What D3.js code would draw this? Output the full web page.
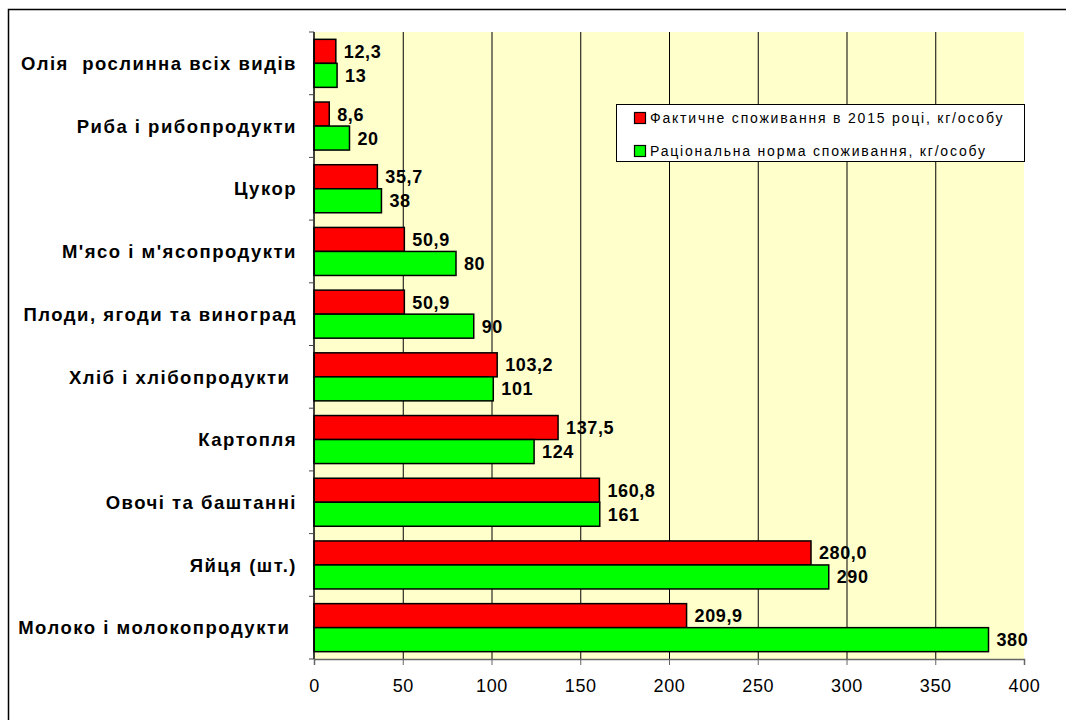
<!DOCTYPE html>
<html>
<head>
<meta charset="utf-8">
<script src="https://cdn.jsdelivr.net/npm/d3@7/dist/d3.min.js"></script>
<style>
  body { margin: 0; background: #fff; }
  svg { display: block; font-family: "Liberation Sans", Arial, sans-serif; }
</style>
</head>
<body>
<div id="chart"></div>
<script>
// categories, top to bottom
const categories = [
  'Олія  рослинна всіх видів',
  'Риба і рибопродукти',
  'Цукор',
  "М'ясо і м'ясопродукти",
  'Плоди, ягоди та виноград',
  'Хліб і хлібопродукти ',
  'Картопля',
  'Овочі та баштанні',
  'Яйця (шт.)',
  'Молоко і молокопродукти '
];
const actual = [12.3, 8.6, 35.7, 50.9, 50.9, 103.2, 137.5, 160.8, 280.0, 209.9];
const actualLabels = ['12,3', '8,6', '35,7', '50,9', '50,9', '103,2', '137,5', '160,8', '280,0', '209,9'];
const norm = [13, 20, 38, 80, 90, 101, 124, 161, 290, 380];
const seriesNames = [
  'Фактичне споживання в 2015 році, кг/особу',
  'Раціональна норма споживання, кг/особу'
];
const seriesColors = ['#ff0000', '#00ff00'];
const xTicks = [0, 50, 100, 150, 200, 250, 300, 350, 400];

const W = 1066, H = 720;
const plot = { left: 314, right: 1024, top: 32, bottom: 659 };

const svg = d3.select('#chart').append('svg')
  .attr('width', W).attr('height', H);

// outer frame
svg.append('rect')
  .attr('x', 8.5).attr('y', 9.5)
  .attr('width', W).attr('height', H)
  .attr('fill', 'none').attr('stroke', '#000').attr('stroke-width', 1.5);

const x = d3.scaleLinear().domain([0, 400]).range([plot.left, plot.right]);
const y = d3.scaleBand().domain(categories).range([plot.top, plot.bottom])
  .paddingInner(0.234).paddingOuter(0.117);
const sub = d3.scaleBand().domain([0, 1]).range([0, y.bandwidth()]);

// plot background
svg.append('rect')
  .attr('x', plot.left).attr('y', plot.top)
  .attr('width', plot.right - plot.left).attr('height', plot.bottom - plot.top)
  .attr('fill', '#ffffcc');

// vertical gridlines
svg.append('g').selectAll('line')
  .data(xTicks.slice(1, -1))
  .join('line')
  .attr('x1', d => x(d) + 0.5).attr('x2', d => x(d) + 0.5)
  .attr('y1', plot.top).attr('y2', plot.bottom)
  .attr('stroke', '#000').attr('stroke-width', 1);

// bars
const groups = svg.append('g').selectAll('g')
  .data(categories)
  .join('g')
  .attr('transform', d => `translate(0,${y(d)})`);

[actual, norm].forEach((vals, si) => {
  groups.append('rect')
    .attr('x', x(0))
    .attr('y', sub(si))
    .attr('width', (d, i) => x(vals[i]) - x(0))
    .attr('height', sub.bandwidth())
    .attr('fill', seriesColors[si])
    .attr('stroke', '#000').attr('stroke-width', 1.5);
});

// value labels
[[actual, actualLabels], [norm, norm.map(String)]].forEach(([vals, labels], si) => {
  groups.append('text')
    .attr('x', (d, i) => x(vals[i]) + 8)
    .attr('y', sub(si) + sub.bandwidth() / 2)
    .attr('dy', '0.36em')
    .attr('font-size', 18).attr('font-weight', 'bold').attr('fill', '#000')
    .attr('letter-spacing', 0.6)
    .text((d, i) => labels[i]);
});

// y axis: line, ticks at band boundaries, labels
const step = y.step();
const boundaries = d3.range(categories.length + 1).map(i => plot.top + i * step);
const yAxis = svg.append('g');
yAxis.append('line')
  .attr('x1', plot.left).attr('x2', plot.left)
  .attr('y1', plot.top).attr('y2', plot.bottom)
  .attr('stroke', '#000').attr('stroke-width', 1.5);
yAxis.selectAll('.tk').data(boundaries).join('line')
  .attr('x1', plot.left - 5).attr('x2', plot.left)
  .attr('y1', d => d).attr('y2', d => d)
  .attr('stroke', '#444');
yAxis.selectAll('text').data(categories).join('text')
  .attr('x', 297)
  .attr('y', d => y(d) + y.bandwidth() / 2)
  .attr('dy', '0.36em')
  .attr('text-anchor', 'end')
  .attr('font-size', 18.5).attr('font-weight', 'bold').attr('fill', '#000')
  .attr('letter-spacing', 1.5)
  .style('white-space', 'pre')
  .text(d => d);

// x axis
const xAxis = svg.append('g')
  .attr('transform', `translate(0,${plot.bottom})`)
  .call(d3.axisBottom(x).tickValues(xTicks).tickSize(6).tickPadding(14).tickFormat(d3.format('d')));
xAxis.select('.domain').attr('stroke', '#666').attr('stroke-width', 1.5);
xAxis.selectAll('.tick line').attr('stroke', '#666');
xAxis.selectAll('.tick text')
  .attr('font-size', 18).attr('fill', '#000')
  .attr('letter-spacing', 0.6)
  .attr('font-family', '"Liberation Sans", Arial, sans-serif');

// legend
const lg = svg.append('g').attr('transform', 'translate(616,104)');
lg.append('rect')
  .attr('x', 0.5).attr('y', 0.5).attr('width', 408).attr('height', 57)
  .attr('fill', '#fff').attr('stroke', '#000').attr('stroke-width', 1);
seriesNames.forEach((name, i) => {
  const row = lg.append('g').attr('transform', `translate(18,${14 + i * 33})`);
  row.append('rect')
    .attr('x', 0.5).attr('y', -5.5).attr('width', 11).attr('height', 11)
    .attr('fill', seriesColors[i]).attr('stroke', '#000').attr('stroke-width', 1.2);
  row.append('text')
    .attr('x', 16).attr('y', 0).attr('dy', '0.36em')
    .attr('font-size', 14).attr('fill', '#000')
    .attr('letter-spacing', 1.8)
    .text(name);
});
</script>
</body>
</html>
